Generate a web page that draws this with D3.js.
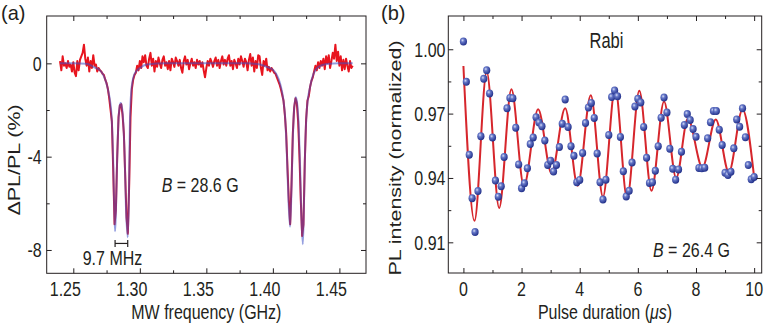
<!DOCTYPE html>
<html><head><meta charset="utf-8">
<script src="https://cdn.jsdelivr.net/npm/d3@7"></script>
<style>html,body{margin:0;padding:0;background:#fff;} svg{display:block;}</style>
</head><body>
<svg id="chart" width="768" height="327"></svg>
<script>
// ---------------- Panel (a) data: ODMR spectrum ----------------
const freqA = [
1.240,1.241,1.242,1.243,1.244,1.245,1.246,1.247,1.248,1.249,
1.250,1.251,1.252,1.253,1.254,1.255,1.256,1.257,1.258,1.259,
1.260,1.261,1.262,1.263,1.264,1.265,1.266,1.267,1.268,1.269,
1.270,1.271,1.272,1.273,1.274,1.275,1.276,1.277,1.278,1.279,
1.280,1.281,1.282,1.283,1.284,1.285,1.286,1.287,1.288,1.289,
1.290,1.291,1.292,1.293,1.294,1.295,1.296,1.297,1.298,1.299,
1.300,1.301,1.302,1.303,1.304,1.305,1.306,1.307,1.308,1.309,
1.310,1.311,1.312,1.313,1.314,1.315,1.316,1.317,1.318,1.319,
1.320,1.321,1.322,1.323,1.324,1.325,1.326,1.327,1.328,1.329,
1.330,1.331,1.332,1.333,1.334,1.335,1.336,1.337,1.338,1.339,
1.340,1.341,1.342,1.343,1.344,1.345,1.346,1.347,1.348,1.349,
1.350,1.351,1.352,1.353,1.354,1.355,1.356,1.357,1.358,1.359,
1.360,1.361,1.362,1.363,1.364,1.365,1.366,1.367,1.368,1.369,
1.370,1.371,1.372,1.373,1.374,1.375,1.376,1.377,1.378,1.379,
1.380,1.381,1.382,1.383,1.384,1.385,1.386,1.387,1.388,1.389,
1.390,1.391,1.392,1.393,1.394,1.395,1.396,1.397,1.398,1.399,
1.400,1.401,1.402,1.403,1.404,1.405,1.406,1.407,1.408,1.409,
1.410,1.411,1.412,1.413,1.414,1.415,1.416,1.417,1.418,1.419,
1.420,1.421,1.422,1.423,1.424,1.425,1.426,1.427,1.428,1.429,
1.430,1.431,1.432,1.433,1.434,1.435,1.436,1.437,1.438,1.439,
1.440,1.441,1.442,1.443,1.444,1.445,1.446,1.447,1.448,1.449,
1.450,1.451,1.452,1.453,1.454,1.455,1.456,1.457,1.458,1.459,
1.460];
const signalA = [
0.1,-0.3,0.3,-0.1,0.0,-0.2,0.1,-0.15,-0.05,-0.35,
0.05,-0.4,-0.55,0.1,-0.3,0.15,0.3,0.45,0.8,0.2,
-0.1,0.25,-0.35,0.1,-0.2,0.35,-0.1,-0.05,-0.35,-0.2,
-0.3,-0.35,-0.45,-0.5,-0.7,-0.85,-1.1,-1.5,-2.0,-2.5,
-4.6,-6.9,-6.3,-4.0,-2.3,-1.8,-1.75,-2.2,-3.0,-4.8,
-6.6,-7.3,-5.2,-2.3,-1.1,-0.7,-0.5,-0.4,-0.1,-0.3,
0.1,-0.2,0.3,0.05,0.35,-0.1,-0.2,0.2,0.45,-0.1,
0.2,-0.35,0.1,-0.15,0.25,0.0,-0.2,0.15,0.3,-0.1,
0.05,-0.25,0.1,-0.3,0.2,0.05,-0.15,0.25,0.1,-0.1,
0.15,-0.2,-0.4,0.1,0.3,-0.05,0.15,-0.25,0.0,0.2,
-0.1,0.05,-0.2,0.15,-0.05,0.1,-0.15,0.05,-0.3,-0.6,
-0.2,0.1,-0.1,0.2,0.05,-0.15,0.1,0.25,-0.1,0.15,
-0.2,0.1,0.3,-0.05,0.15,-0.1,0.2,0.35,-0.1,0.1,
-0.25,0.15,0.0,-0.2,0.2,-0.05,0.3,0.1,-0.15,0.2,
0.05,-0.3,0.15,0.4,-0.1,0.25,-0.35,0.1,-0.2,0.35,
0.3,-0.2,-0.5,0.1,-0.1,0.2,-0.3,-0.15,-0.35,-0.2,
-0.3,-0.4,-0.45,-0.6,-0.75,-0.9,-1.1,-1.35,-1.6,-2.2,
-3.0,-4.5,-5.9,-6.9,-5.2,-3.0,-1.9,-1.5,-1.7,-2.5,
-4.0,-5.9,-7.4,-6.9,-4.2,-2.4,-1.6,-1.4,-1.0,-0.75,
-0.6,-0.35,-0.1,-0.3,0.05,-0.2,0.1,-0.1,0.2,-0.25,
0.3,0.0,0.35,-0.2,0.1,0.45,0.2,0.8,0.1,0.5,
-0.1,0.3,-0.3,0.15,-0.25,0.2,-0.1,-0.35,0.1,-0.2,
-0.1];
const fitFreqA = [1.240,1.250,1.260,1.2650,1.2701,1.2726,1.2751,1.2763,1.2776,1.2789,
1.2801,1.2808,1.2814,1.2820,1.2829,1.2838,1.2847,1.2856,1.2866,1.2876,
1.2886,1.2896,1.2909,1.2917,1.2926,1.2939,1.2963,1.3001,1.3052,1.320,
1.340,1.360,1.380,1.3904,1.3954,1.4004,1.4029,1.4054,1.4079,1.4092,
1.4105,1.4117,1.4129,1.4137,1.4147,1.4157,1.4172,1.4184,1.4195,1.4205,
1.4214,1.4225,1.4232,1.4242,1.4255,1.4280,1.4305,1.4342,1.4405,1.450,1.460];
const fitValA = [0,0,-0.02,-0.15,-0.3,-0.5,-0.9,-1.2,-1.6,-2.4,
-4.5,-6.3,-7.2,-6.4,-4.2,-2.6,-1.9,-1.7,-1.9,-2.6,
-4.0,-6.2,-7.45,-6.0,-2.4,-1.0,-0.42,-0.2,-0.05,0,
0,0,0,-0.05,-0.15,-0.29,-0.5,-0.86,-1.57,-2.3,
-3.85,-5.8,-7.0,-6.0,-3.8,-2.2,-1.45,-1.8,-2.8,-4.5,
-6.5,-7.75,-6.5,-3.8,-2.0,-1.0,-0.45,-0.15,-0.03,0,0];
const splitFreqs = [1.2814, 1.2909];   // 9.7 MHz marker
const splitLevel = -7.72;
const xTicksA = [1.25,1.30,1.35,1.40,1.45];
const xMinorA = [1.275,1.325,1.375,1.425];
const xLabelsA = ["1.25","1.30","1.35","1.40","1.45"];
const yTicksA = [0,-4,-8];
const yMinorA = [-2,-6];
const yLabelsA = ["0","-4","-8"];

// ---------------- Panel (b) data: Rabi oscillation ----------------
const timeB = [
0.0,0.1,0.2,0.3,0.4,0.5,0.6,0.7,0.8,0.9,
1.0,1.1,1.2,1.3,1.4,1.5,1.6,1.7,1.8,1.9,
2.0,2.1,2.2,2.3,2.4,2.5,2.6,2.7,2.8,2.9,
3.0,3.1,3.2,3.3,3.4,3.5,3.6,3.7,3.8,3.9,
4.0,4.1,4.2,4.3,4.4,4.5,4.6,4.7,4.8,4.9,
5.0,5.1,5.2,5.3,5.4,5.5,5.6,5.7,5.8,5.9,
6.0,6.1,6.2,6.3,6.4,6.5,6.6,6.7,6.8,6.9,
7.0,7.1,7.2,7.3,7.4,7.5,7.6,7.7,7.8,7.9,
8.0,8.1,8.2,8.3,8.4,8.5,8.6,8.7,8.8,8.9,
9.0,9.1,9.2,9.3,9.4,9.5,9.6,9.7,9.8,9.9,
10.0];
const intensityB = [
1.0036,0.9848,0.9508,0.9306,0.9148,0.9339,0.9595,0.9862,0.9902,0.9794,
0.9589,0.9388,0.9313,0.9361,0.9498,0.9725,0.9773,0.9772,0.9634,0.9463,
0.9352,0.9375,0.9445,0.9558,0.9589,0.9683,0.9658,0.9641,0.9575,0.9461,
0.9480,0.9430,0.9461,0.9544,0.9653,0.9766,0.9638,0.9548,0.9503,0.9380,
0.9391,0.9516,0.9656,0.9728,0.9750,0.9680,0.9514,0.9380,0.9300,0.9392,
0.9600,0.9777,0.9808,0.9781,0.9591,0.9431,0.9314,0.9340,0.9472,0.9733,
0.9769,0.9752,0.9638,0.9494,0.9377,0.9380,0.9434,0.9548,0.9681,0.9775,
0.9705,0.9536,0.9443,0.9392,0.9440,0.9522,0.9647,0.9698,0.9670,0.9628,
0.9592,0.9447,0.9445,0.9448,0.9585,0.9660,0.9712,0.9712,0.9625,0.9554,
0.9424,0.9414,0.9429,0.9538,0.9673,0.9639,0.9725,0.9590,0.9460,0.9394,
0.9405];
const fitTimeB = [0,0.38,0.8,1.23,1.65,2.08,2.57,3.03,3.5,3.93,4.38,4.8,5.22,5.63,6.05,6.47,6.9,7.32,7.72,8.22,8.68,9.13,9.6,10];
const fitValB = [0.9922,0.920,0.9895,0.926,0.9813,0.9364,0.972,0.9422,0.9725,0.9364,0.9786,0.9313,0.982,0.9306,0.9806,0.934,0.9756,0.940,0.9677,0.945,0.9673,0.9427,0.9719,0.9403];
const xTicksB = [0,2,4,6,8,10];
const xMinorB = [1,3,5,7,9];
const xLabelsB = ["0","2","4","6","8","10"];
const yTicksB = [0.91,0.94,0.97,1.00];
const yMinorB = [0.925,0.955,0.985];
const yLabelsB = ["0.91","0.94","0.97","1.00"];

// ---------------- drawing ----------------
const svg = d3.select("#chart");
const FONT = "'Liberation Sans', Arial, Helvetica, sans-serif";
const INK = "#231f20";
const SY = 1.3;

function txt(parent, x, y, parts, o = {}) {
  const size = o.size || 16, sy = o.sy || SY;
  let tf = `translate(${x},${y}) scale(1,${sy})`;
  if (o.rotate) tf += ` rotate(${o.rotate})`;
  const t = parent.append("g").attr("transform", tf).append("text")
    .attr("text-anchor", o.anchor || "start")
    .attr("font-family", FONT).attr("font-size", size).attr("fill", INK);
  (Array.isArray(parts) ? parts : [[parts, false]]).forEach(([s, it]) => {
    t.append("tspan").text(s).attr("font-style", it ? "italic" : "normal");
  });
  return t;
}

function frameAndTicks(g, x, y, L, R, T, B, xMaj, xMin, yMaj, yMin) {
  const mk = (axis, tx, ty, vals, len) => {
    const a = g.append("g").attr("transform", `translate(${tx},${ty})`)
      .call(axis.tickValues(vals).tickSize(-len).tickFormat(""));
    a.select(".domain").remove();
    a.selectAll("line").attr("stroke", INK).attr("stroke-width", 1);
  };
  mk(d3.axisBottom(x), 0, B, xMaj, 5); mk(d3.axisBottom(x), 0, B, xMin, 3);
  mk(d3.axisTop(x), 0, T, xMaj, 5);    mk(d3.axisTop(x), 0, T, xMin, 3);
  mk(d3.axisLeft(y), L, 0, yMaj, 5);   mk(d3.axisLeft(y), L, 0, yMin, 3);
  mk(d3.axisRight(y), R, 0, yMaj, 5);  mk(d3.axisRight(y), R, 0, yMin, 3);
  g.append("rect").attr("x", L).attr("y", T).attr("width", R - L).attr("height", B - T)
    .attr("fill", "none").attr("stroke", INK).attr("stroke-width", 1);
}

// ---- Panel (a)
const A = {L: 46.7, R: 366, T: 16, B: 273.3};
const xA = d3.scaleLinear().domain([1.23, 1.47]).range([A.L, A.R]);
const yA = d3.scaleLinear().domain([-9, 2.03]).range([A.B, A.T]);
const ga = svg.append("g");
svg.append("clipPath").attr("id", "clipA").append("rect")
  .attr("x", A.L).attr("y", A.T).attr("width", A.R - A.L).attr("height", A.B - A.T);

const dataA = freqA.map((f, i) => [f, signalA[i]]);
const fitA = fitFreqA.map((f, i) => [f, fitValA[i]]);
const plotA = ga.append("g").attr("clip-path", "url(#clipA)");
plotA.append("path").datum(dataA)
  .attr("d", d3.line().x(d => xA(d[0])).y(d => yA(d[1])))
  .attr("fill", "none").attr("stroke", "#e8141e").attr("stroke-width", 2).attr("stroke-linejoin", "round");
plotA.append("path").datum(fitA)
  .attr("d", d3.line().x(d => xA(d[0])).y(d => yA(d[1])).curve(d3.curveMonotoneX))
  .attr("fill", "none").attr("stroke", "#3c4fc4").attr("stroke-width", 2).attr("stroke-opacity", 0.55);

frameAndTicks(ga, xA, yA, A.L, A.R, A.T, A.B, xTicksA, xMinorA, yTicksA, yMinorA);

xTicksA.forEach((v, i) => txt(ga, xA(v) - 8, 296, xLabelsA[i], {anchor: "middle"}));
yTicksA.forEach((v, i) => txt(ga, 41.7, yA(v) + 7.4, yLabelsA[i], {anchor: "end"}));
txt(ga, (A.L + A.R) / 2, 318.5, "MW frequency (GHz)", {anchor: "middle"});
txt(ga, 20, 160, "\u0394PL/PL (%)", {anchor: "middle", rotate: -90, size: 16.5});
txt(ga, 161.7, 191.7, [["B", true], [" = 28.6 G", false]]);
txt(ga, 112.5, 265, "9.7 MHz", {anchor: "middle"});
txt(svg, 1, 20, "(a)", {size: 20, sy: 1.05});

// 9.7 MHz splitting marker
const mY = yA(splitLevel);
const mk = ga.append("g").attr("stroke", INK).attr("stroke-width", 1.2);
mk.append("line").attr("x1", xA(splitFreqs[0])).attr("x2", xA(splitFreqs[1])).attr("y1", mY).attr("y2", mY);
splitFreqs.forEach(f => mk.append("line").attr("x1", xA(f)).attr("x2", xA(f)).attr("y1", mY - 3.5).attr("y2", mY + 3.5));

// ---- Panel (b)
const Bp = {L: 448.3, R: 761.7, T: 16, B: 273};
const xB = d3.scaleLinear().domain([-0.52, 10.26]).range([Bp.L, Bp.R]);
const yB = d3.scaleLinear().domain([0.8957, 1.0155]).range([Bp.B, Bp.T]);
const gb = svg.append("g");

const defs = svg.append("defs");
const grad = defs.append("radialGradient").attr("id", "ball").attr("cx", "38%").attr("cy", "35%").attr("r", "65%");
grad.append("stop").attr("offset", "0%").attr("stop-color", "#d6dcf5");
grad.append("stop").attr("offset", "35%").attr("stop-color", "#6577c8");
grad.append("stop").attr("offset", "100%").attr("stop-color", "#22308a");

const fitB = fitTimeB.map((t, i) => [t, fitValB[i]]);
gb.append("path").datum(fitB)
  .attr("d", d3.line().x(d => xB(d[0])).y(d => yB(d[1])).curve(d3.curveMonotoneX))
  .attr("fill", "none").attr("stroke", "#d6262c").attr("stroke-width", 2);
gb.append("g").selectAll("ellipse").data(timeB.map((t, i) => [t, intensityB[i]]))
  .join("ellipse").attr("cx", d => xB(d[0])).attr("cy", d => yB(d[1]))
  .attr("rx", 3.6).attr("ry", 4).attr("fill", "url(#ball)");

frameAndTicks(gb, xB, yB, Bp.L, Bp.R, Bp.T, Bp.B, xTicksB, xMinorB, yTicksB, yMinorB);

xTicksB.forEach((v, i) => txt(gb, xB(v), 296, xLabelsB[i], {anchor: "middle"}));
yTicksB.forEach((v, i) => txt(gb, 445.5, yB(v) + 7.4, yLabelsB[i], {anchor: "end"}));
txt(gb, (Bp.L + Bp.R) / 2, 318.5, [["Pulse duration (", false], ["\u03bcs", true], [")", false]], {anchor: "middle"});
txt(gb, 401, 158, "PL intensity (normalized)", {anchor: "middle", rotate: -90, size: 16.5});
txt(gb, 606.5, 48.3, "Rabi", {anchor: "middle", size: 16.5});
txt(gb, 653, 256.7, [["B", true], [" = 26.4 G", false]]);
txt(svg, 381, 20, "(b)", {size: 20, sy: 1.05});
</script>
</body></html>
